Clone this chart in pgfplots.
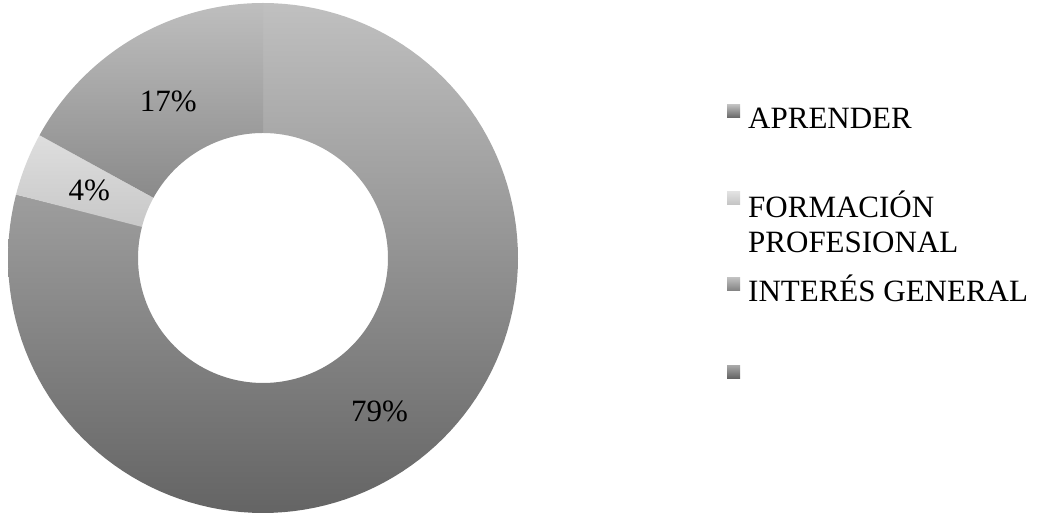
\documentclass[border=0pt]{standalone}
\usepackage{pgfplots}
\pgfplotsset{compat=1.18}
\usepackage{pgfplotstable}
\usepackage{fontspec}
\setmainfont{Liberation Serif}

\pgfplotstableread{
label value
APRENDER 79
FORMACION 4
INTERES 17
}\datatable

\begin{document}
\begin{tikzpicture}
\pgfplotstablegetelem{0}{value}\of\datatable \let\vA\pgfplotsretval
\pgfplotstablegetelem{1}{value}\of\datatable \let\vB\pgfplotsretval
\pgfplotstablegetelem{2}{value}\of\datatable \let\vC\pgfplotsretval
\pgfmathsetmacro{\aA}{90}
\pgfmathsetmacro{\bA}{\aA-3.6*\vA}
\pgfmathsetmacro{\aB}{\bA}
\pgfmathsetmacro{\bB}{\aB-3.6*\vB}
\pgfmathsetmacro{\aC}{\bB}
\pgfmathsetmacro{\bC}{\aC-3.6*\vC}
\def\Ro{255}
\def\Ri{125}
\pgfmathsetmacro{\mA}{(\aA+\bA)/2}
\pgfmathsetmacro{\mB}{(\aB+\bB)/2}
\pgfmathsetmacro{\mC}{(\aC+\bC)/2}
\begin{axis}[
  x=1pt, y=1pt,
  xmin=-263, xmax=783, ymin=-255, ymax=258,
  hide axis, clip=false,
  at={(0,0)}, anchor=south west,
  font=\fontsize{31}{37}\selectfont,
]
\path (axis cs:-263,-255) rectangle (axis cs:783,258);
% slice A
\addplot[draw=none, top color={rgb,255:red,192;green,192;blue,192}, bottom color={rgb,255:red,100;green,100;blue,100},
  variable=\t, domain=0:2, samples=241]
  ({ifthenelse(\t<1.005,\Ro,\Ri)*cos(ifthenelse(\t<1.005,\aA+(\bA-\aA)*min(\t,1),\bA+(\aA-\bA)*(\t-1.01)/0.99))},
   {ifthenelse(\t<1.005,\Ro,\Ri)*sin(ifthenelse(\t<1.005,\aA+(\bA-\aA)*min(\t,1),\bA+(\aA-\bA)*(\t-1.01)/0.99))});
% slice B
\addplot[draw=none, top color={rgb,255:red,222;green,222;blue,222}, bottom color={rgb,255:red,200;green,200;blue,200},
  variable=\t, domain=0:2, samples=121]
  ({ifthenelse(\t<1.005,\Ro,\Ri)*cos(ifthenelse(\t<1.005,\aB+(\bB-\aB)*min(\t,1),\bB+(\aB-\bB)*(\t-1.01)/0.99))},
   {ifthenelse(\t<1.005,\Ro,\Ri)*sin(ifthenelse(\t<1.005,\aB+(\bB-\aB)*min(\t,1),\bB+(\aB-\bB)*(\t-1.01)/0.99))});
% slice C
\addplot[draw=none, top color={rgb,255:red,190;green,190;blue,190}, bottom color={rgb,255:red,138;green,138;blue,138},
  variable=\t, domain=0:2, samples=201]
  ({ifthenelse(\t<1.005,\Ro,\Ri)*cos(ifthenelse(\t<1.005,\aC+(\bC-\aC)*min(\t,1),\bC+(\aC-\bC)*(\t-1.01)/0.99))},
   {ifthenelse(\t<1.005,\Ro,\Ri)*sin(ifthenelse(\t<1.005,\aC+(\bC-\aC)*min(\t,1),\bC+(\aC-\bC)*(\t-1.01)/0.99))});
% labels
\node at (axis cs:{190*cos(\mA)},{190*sin(\mA)-3}) {\vA\%};
\node at (axis cs:{190*cos(\mB)+3},{190*sin(\mB)-2}) {\vB\%};
\node at (axis cs:{190*cos(\mC)+2},{190*sin(\mC)-7}) {\vC\%};
% legend
\shade[top color={rgb,255:red,190;green,190;blue,190}, bottom color={rgb,255:red,100;green,100;blue,100}]
  (axis cs:464,153) rectangle (axis cs:477,140);
\shade[top color={rgb,255:red,225;green,225;blue,225}, bottom color={rgb,255:red,195;green,195;blue,195}]
  (axis cs:464,66) rectangle (axis cs:477,53);
\shade[top color={rgb,255:red,190;green,190;blue,190}, bottom color={rgb,255:red,128;green,128;blue,128}]
  (axis cs:464,-20) rectangle (axis cs:477,-33);
\shade[top color={rgb,255:red,165;green,165;blue,165}, bottom color={rgb,255:red,95;green,95;blue,95}]
  (axis cs:464,-108) rectangle (axis cs:477,-121);
\node[anchor=base west, inner sep=0pt] at (axis cs:485,129) {APRENDER};
\node[anchor=base west, inner sep=0pt] at (axis cs:485,40) {FORMACIÓN};
\node[anchor=base west, inner sep=0pt] at (axis cs:485,5) {PROFESIONAL};
\node[anchor=base west, inner sep=0pt] at (axis cs:485,-44) {INTERÉS GENERAL};
\end{axis}
\end{tikzpicture}
\end{document}
